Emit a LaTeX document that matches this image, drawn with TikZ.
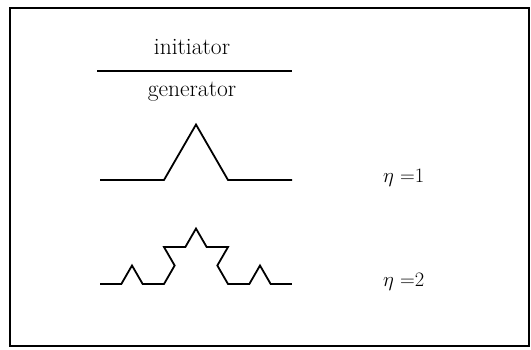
\documentclass[tikz,border=0pt]{standalone}
\usepackage{fontspec}
\begin{document}
\begin{tikzpicture}[x=1pt,y=1pt,
  lbl/.style={inner sep=0pt,font=\fontsize{20.5}{24}\selectfont},
  title/.style={inner sep=0pt,font=\fontsize{23.5}{28}\selectfont},
  curve/.style={line width=1.8pt,line join=miter},
  frame/.style={line width=1.3pt}]
\useasboundingbox (0,0) rectangle (531,350);
\draw[frame] (10,4) rectangle (529,342);
\node[title,anchor=base] (init) at (192,295) {initiator};
\draw[line width=1.3pt] (97,279) -- (292,279);
\node[title,anchor=base] (gen) at (192,253) {generator};
% n = 1
\draw[curve] (100,170) -- ++(0:64) -- ++(60:64) -- ++(-60:64) -- ++(0:64);
% n = 2
\def\s{21.333}
\draw[curve] (100,66)
  -- ++(0:\s) -- ++(60:\s) -- ++(-60:\s) -- ++(0:\s)
  -- ++(60:\s) -- ++(120:\s) -- ++(0:\s) -- ++(60:\s)
  -- ++(-60:\s) -- ++(0:\s) -- ++(-120:\s) -- ++(-60:\s)
  -- ++(0:\s) -- ++(60:\s) -- ++(-60:\s) -- ++(0:\s);
\node[lbl,anchor=base west] (n1) at (383,167) {$\eta$ =1};
\node[lbl,anchor=base west] (n2) at (383,63) {$\eta$ =2};
\end{tikzpicture}
\end{document}
